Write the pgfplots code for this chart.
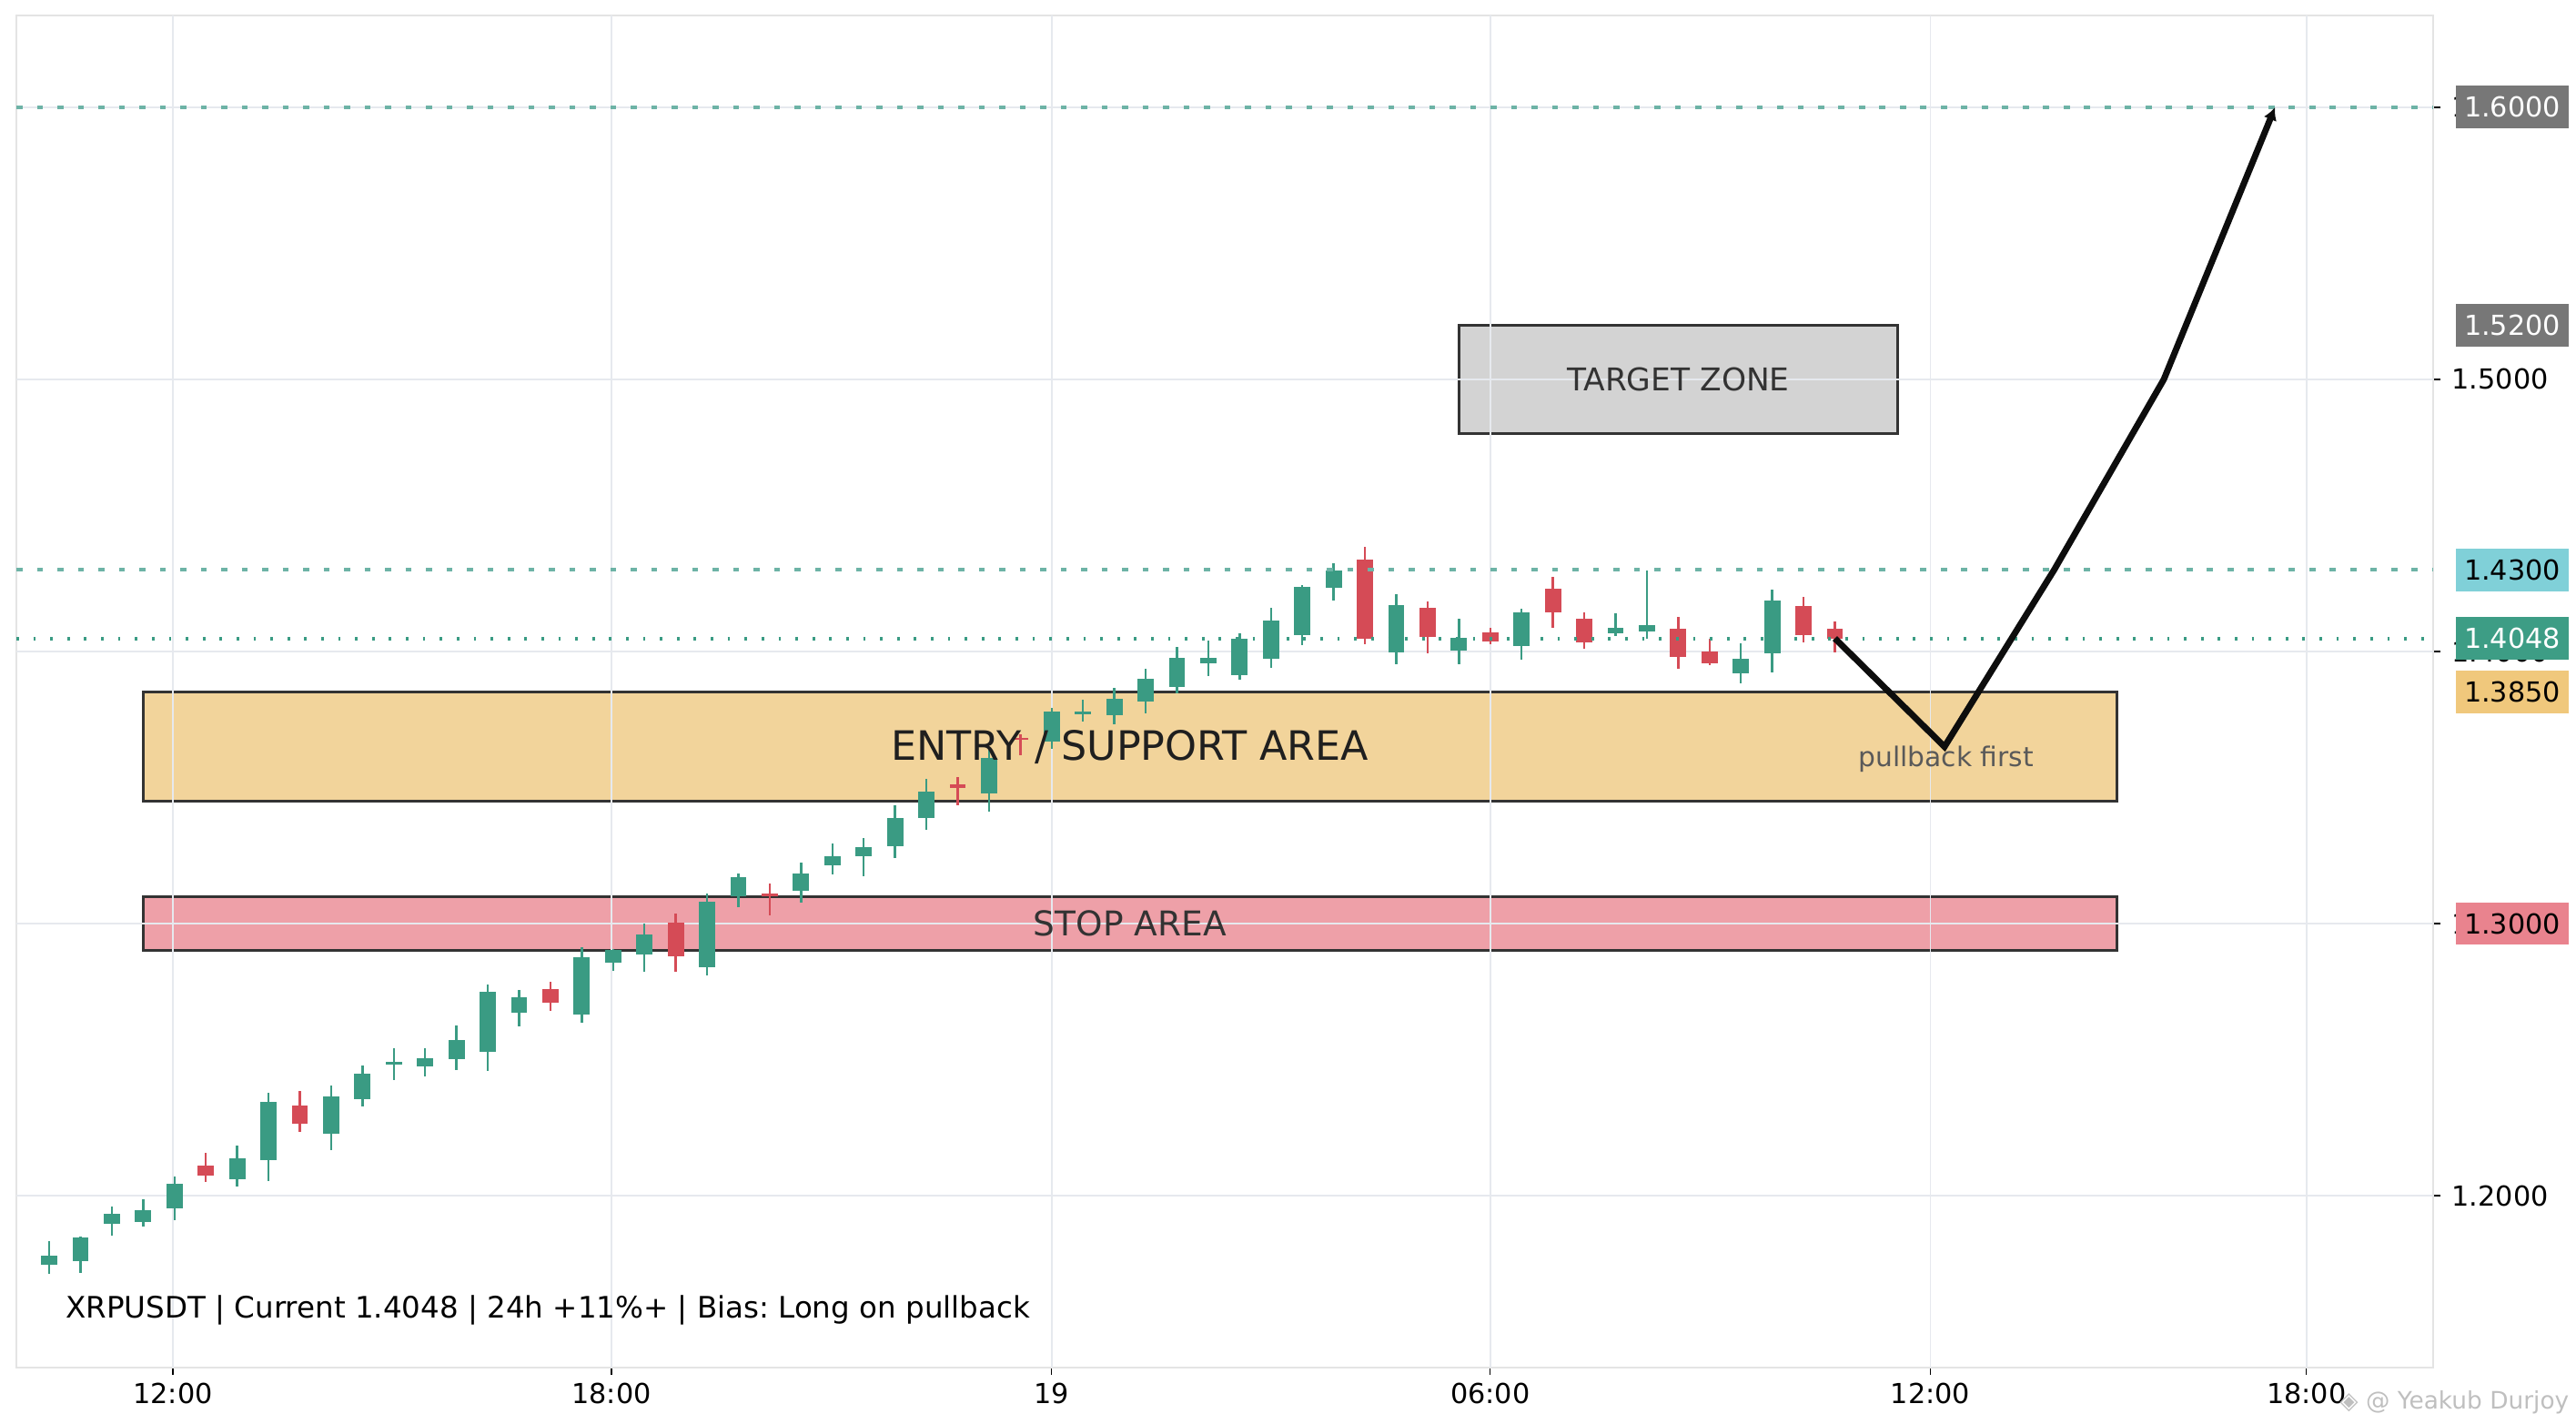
\documentclass[border=0pt]{standalone}
\usepackage{pgfplots}
\pgfplotsset{compat=1.18}
\usepackage{pgfplotstable}
\usepackage{fontspec}
\setmainfont{DejaVu Sans}
\usetikzlibrary{arrows.meta}
\frenchspacing

\definecolor{cgreen}{HTML}{3A9B83}
\definecolor{cred}{HTML}{D54B56}
\definecolor{gridc}{HTML}{E6E9EE}
\definecolor{spinec}{HTML}{E4E4E4}
\definecolor{dotc}{HTML}{6DB3A6}
\definecolor{entryfill}{HTML}{F2D49B}
\definecolor{stopfill}{HTML}{EEA0A8}
\definecolor{targetfill}{HTML}{D3D3D3}
\definecolor{boxedge}{HTML}{333333}
\definecolor{taggray}{HTML}{777777}
\definecolor{tagcyan}{HTML}{80D0D8}
\definecolor{taggreen}{HTML}{3D9D85}
\definecolor{tagorange}{HTML}{F0C87C}
\definecolor{tagpink}{HTML}{E9838E}

% candles: index, open, high, low, close
\pgfplotstableread{
i o h l c
0 1.1747 1.1832 1.1711 1.1779
1 1.1760 1.1848 1.1715 1.1846
2 1.1896 1.1959 1.1853 1.1933
3 1.1904 1.1986 1.1885 1.1948
4 1.1953 1.2070 1.1909 1.2045
6 1.2061 1.2183 1.2032 1.2137
7 1.2132 1.2377 1.2052 1.2344
9 1.2229 1.2404 1.2166 1.2365
10 1.2356 1.2478 1.2327 1.2448
11 1.2483 1.2542 1.2424 1.2489
12 1.2476 1.2542 1.2437 1.2505
13 1.2503 1.2624 1.2460 1.2572
14 1.2528 1.2777 1.2457 1.2748
15 1.2672 1.2757 1.2623 1.2728
17 1.2666 1.2914 1.2637 1.2875
18 1.2855 1.2907 1.2827 1.2902
19 1.2885 1.3001 1.2824 1.2959
21 1.2838 1.3111 1.2808 1.3079
22 1.3100 1.3185 1.3061 1.3169
24 1.3119 1.3225 1.3078 1.3183
25 1.3213 1.3295 1.3181 1.3246
26 1.3246 1.3315 1.3175 1.3280
27 1.3284 1.3436 1.3241 1.3387
28 1.3388 1.3533 1.3346 1.3485
30 1.3478 1.3644 1.3412 1.3609
32 1.3669 1.3794 1.3643 1.3778
33 1.3769 1.3822 1.3741 1.3778
34 1.3767 1.3867 1.3733 1.3826
35 1.3817 1.3935 1.3772 1.3900
36 1.3871 1.4016 1.3846 1.3977
37 1.3958 1.4039 1.3909 1.3977
38 1.3913 1.4067 1.3895 1.4047
39 1.3974 1.4159 1.3939 1.4114
40 1.4061 1.4243 1.4022 1.4237
41 1.4235 1.4323 1.4186 1.4298
43 1.3995 1.4210 1.3952 1.4171
45 1.4004 1.4119 1.3952 1.4050
47 1.4021 1.4157 1.3970 1.4144
50 1.4068 1.4139 1.4057 1.4087
51 1.4075 1.4299 1.4047 1.4098
54 1.3921 1.4029 1.3882 1.3973
55 1.3995 1.4226 1.3923 1.4187
}\greencandles

\pgfplotstableread{
i o h l c
5 1.2110 1.2156 1.2049 1.2075
8 1.2331 1.2385 1.2235 1.2265
16 1.2758 1.2787 1.2680 1.2710
20 1.3002 1.3038 1.2824 1.2880
23 1.3109 1.3148 1.3031 1.3099
29 1.3511 1.3540 1.3436 1.3499
31 1.3683 1.3695 1.3620 1.3676
42 1.4338 1.4384 1.4026 1.4048
44 1.4161 1.4183 1.3992 1.4055
46 1.4070 1.4087 1.4026 1.4038
48 1.4231 1.4273 1.4087 1.4145
49 1.4120 1.4143 1.4009 1.4035
52 1.4084 1.4127 1.3935 1.3981
53 1.4001 1.4046 1.3951 1.3958
56 1.4167 1.4201 1.4032 1.4061
57 1.4084 1.4109 1.3998 1.4048
}\redcandles

\begin{document}
\begin{tikzpicture}
\useasboundingbox (-6.5pt,-22.3pt) rectangle (1012.7pt,541.1pt);
\begin{axis}[
  at={(0,0)}, anchor=south west, scale only axis,
  width=956.2pt, height=535pt,
  xmin=-1.046, xmax=76.10, ymin=1.13679, ymax=1.63378,
  axis line style={draw=spinec, line width=0.8pt},
  xtick={3.95,17.95,32,46,60.05,72.05},
  xticklabels={12:00,18:00,19,06:00,12:00,18:00},
  ytick={1.2,1.3,1.4,1.5,1.6},
  xtick pos=lower, ytick pos=right, yticklabel pos=right,
  tick align=outside, major tick length=2.9pt,
  tick style={black, line width=0.45pt},
  tick label style={font=\fontsize{10.9}{12}\selectfont, text=black},
  xticklabel style={anchor=north, inner sep=0pt, yshift=-3.2pt},
  yticklabel style={anchor=west, inner sep=0pt, xshift=4.3pt},
  scaled y ticks=false,
  /pgf/number format/fixed, /pgf/number format/fixed zerofill,
  /pgf/number format/precision=4, /pgf/number format/assume math mode=true,
  clip=true,
  candle/.style={draw=none, no markers, forget plot,
    error bars/y dir=both, error bars/y explicit, error bars/error mark=none,
    error bars/error bar style={draw=#1}},
]
% zones
\addplot[fill=targetfill, draw=boxedge, line width=1.1pt, forget plot] coordinates {(45,1.48)(59,1.48)(59,1.52)(45,1.52)} -- cycle;
\addplot[fill=entryfill, draw=boxedge, line width=1.1pt, forget plot] coordinates {(3,1.345)(66,1.345)(66,1.385)(3,1.385)} -- cycle;
\addplot[fill=stopfill, draw=boxedge, line width=1.1pt, forget plot] coordinates {(3,1.29)(66,1.29)(66,1.31)(3,1.31)} -- cycle;
% grid
\foreach \gx in {3.95,17.95,32,46,60.05,72.05} {
  \addplot[gridc, line width=0.7pt, forget plot] coordinates {(\gx,1.13679)(\gx,1.63378)};
}
\foreach \gy in {1.2,1.3,1.4,1.5,1.6} {
  \addplot[gridc, line width=0.7pt, forget plot] coordinates {(-1.046,\gy)(76.10,\gy)};
}
% wicks
\addplot[candle=cgreen, error bars/error bar style={line width=0.9pt}]
  table[x=i, y expr={(\thisrow{h}+\thisrow{l})/2}, y error expr={(\thisrow{h}-\thisrow{l})/2}] {\greencandles};
\addplot[candle=cred, error bars/error bar style={line width=0.9pt}]
  table[x=i, y expr={(\thisrow{h}+\thisrow{l})/2}, y error expr={(\thisrow{h}-\thisrow{l})/2}] {\redcandles};
% bodies
\addplot[candle=cgreen, error bars/error bar style={line width=6.4pt}]
  table[x=i, y expr={(\thisrow{o}+\thisrow{c})/2}, y error expr={max(abs(\thisrow{c}-\thisrow{o})/2,0.0004)}] {\greencandles};
\addplot[candle=cred, error bars/error bar style={line width=6.4pt}]
  table[x=i, y expr={(\thisrow{o}+\thisrow{c})/2}, y error expr={max(abs(\thisrow{c}-\thisrow{o})/2,0.0004)}] {\redcandles};
% level lines
\addplot[dotc, line width=1.4pt, dash pattern=on 2.4pt off 5.7pt, forget plot] coordinates {(-1.046,1.6)(76.10,1.6)};
\addplot[dotc, line width=1.4pt, dash pattern=on 2.4pt off 5.7pt, forget plot] coordinates {(-1.046,1.43)(76.10,1.43)};
\addplot[cgreen, line width=1.4pt, dash pattern=on 1pt off 5.7pt, forget plot] coordinates {(-1.046,1.4048)(76.10,1.4048)};
% texts
\node[font=\fontsize{12.4}{14}\selectfont, text=boxedge] at (axis cs:52,1.50) {TARGET ZONE};
\node[font=\fontsize{16}{18}\selectfont, text=black!88] at (axis cs:34.5,1.365) {ENTRY / SUPPORT AREA};
\node[font=\fontsize{13.5}{15}\selectfont, text=boxedge] at (axis cs:34.5,1.300) {STOP AREA};
\node[font=\fontsize{10.7}{12}\selectfont, text=black!65] at (axis cs:60.55,1.3605) {pullback first};
% projected path
\addplot[black!95, line width=2.5pt, -{Latex[length=5pt,width=5.5pt]}, forget plot] coordinates {(57,1.4048)(60.5,1.365)(64,1.43)(67.5,1.50)(71.05,1.60)};
% tag anchors
\coordinate (tA) at (axis cs:76.10,1.6);
\coordinate (tB) at (axis cs:76.10,1.52);
\coordinate (tC) at (axis cs:76.10,1.43);
\coordinate (tD) at (axis cs:76.10,1.4048);
\coordinate (tE) at (axis cs:76.10,1.385);
\coordinate (tF) at (axis cs:76.10,1.30);
\end{axis}
\tikzset{tag/.style={minimum width=44.6pt, minimum height=16.9pt, inner sep=0pt, font=\fontsize{10.9}{12}\selectfont}}
\node[tag, fill=taggray, text=white] at ([xshift=31.3pt]tA) {1.6000};
\node[tag, fill=taggray, text=white] at ([xshift=31.3pt]tB) {1.5200};
\node[tag, fill=tagcyan, text=black] at ([xshift=31.3pt]tC) {1.4300};
\node[tag, fill=taggreen, text=white] at ([xshift=31.3pt]tD) {1.4048};
\node[tag, fill=tagorange, text=black] at ([xshift=31.3pt]tE) {1.3850};
\node[tag, fill=tagpink, text=black] at ([xshift=31.3pt]tF) {1.3000};
\node[anchor=base west, inner sep=0pt, font=\fontsize{11.7}{13}\selectfont] at (19.4pt,19.8pt) {XRPUSDT | Current 1.4048 | 24h +11\%+ | Bias: Long on pullback};
\node[anchor=base east, inner sep=0pt, font=\fontsize{9.5}{10}\selectfont, text=black!25] at (1010.1pt,-16.2pt) {◈ @ Yeakub Durjoy};
\end{tikzpicture}
\end{document}
